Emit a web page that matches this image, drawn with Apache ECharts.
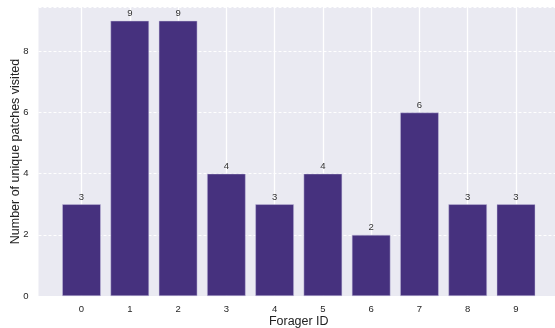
<!DOCTYPE html>
<html>
<head>
<meta charset="utf-8">
<script src="https://cdn.jsdelivr.net/npm/echarts@6/dist/echarts.min.js"></script>
<style>html,body{margin:0;padding:0;background:#fff}#c{width:555px;height:328px}</style>
</head>
<body>
<div id="c"></div>
<script>
const categories = ['0','1','2','3','4','5','6','7','8','9'];
const patchCounts = [3, 9, 9, 4, 3, 4, 2, 6, 3, 3];
const yTicks = [0, 2, 4, 6, 8];

const FONT = '"Liberation Sans", Arial, sans-serif';
const chart = echarts.init(document.getElementById('c'), null, {renderer: 'canvas'});
const gTop = 7, gBottom = 32;
chart.setOption({
  animation: false,
  grid: [
    {left: 38.5, right: -4, top: gTop, bottom: gBottom, show: true, backgroundColor: '#eaeaf2', borderWidth: 0,
     containLabel: false, outerBoundsMode: 'none'},
    {left: 81.5, right: 39, top: gTop, bottom: gBottom, containLabel: false, outerBoundsMode: 'none'}
  ],
  xAxis: [
    {gridIndex: 0, type: 'value', min: 0, max: 1, show: false},
    {gridIndex: 1, type: 'category', data: categories, boundaryGap: false,
     axisLine: {show: false}, axisTick: {show: false},
     axisLabel: {color: '#262626', fontFamily: FONT, fontSize: 9.5, margin: 8},
     splitLine: {show: true, lineStyle: {color: '#ffffff', width: 1.3}},
     name: 'Forager ID', nameLocation: 'middle', nameGap: 19, nameMoveOverlap: false,
     nameTextStyle: {color: '#222', fontFamily: FONT, fontSize: 12.5}}
  ],
  yAxis: [
    {gridIndex: 0, type: 'value', min: 0, max: 9.45, interval: 2,
     axisLine: {show: false}, axisTick: {show: false},
     axisLabel: {color: '#262626', fontFamily: FONT, fontSize: 9.5, margin: 10, showMaxLabel: false,
       formatter: v => (yTicks.includes(v) ? String(v) : '')},
     splitLine: {show: true, lineStyle: {color: '#ffffff', width: 1, type: [3, 2]}},
     name: 'Number of unique patches visited', nameLocation: 'middle', nameGap: 16, nameMoveOverlap: false,
     nameTextStyle: {color: '#222', fontFamily: FONT, fontSize: 12.5}},
    {gridIndex: 1, type: 'value', min: 0, max: 9.45, show: false}
  ],
  series: [{
    type: 'bar', xAxisIndex: 1, yAxisIndex: 1, data: patchCounts,
    barWidth: 38.6, clip: false,
    itemStyle: {color: '#46317e', borderColor: 'rgba(200,195,225,0.8)', borderWidth: 0.6},
    label: {show: true, position: 'top', distance: 2, color: '#333', fontFamily: FONT, fontSize: 9.5}
  }]
});
</script>
</body>
</html>
